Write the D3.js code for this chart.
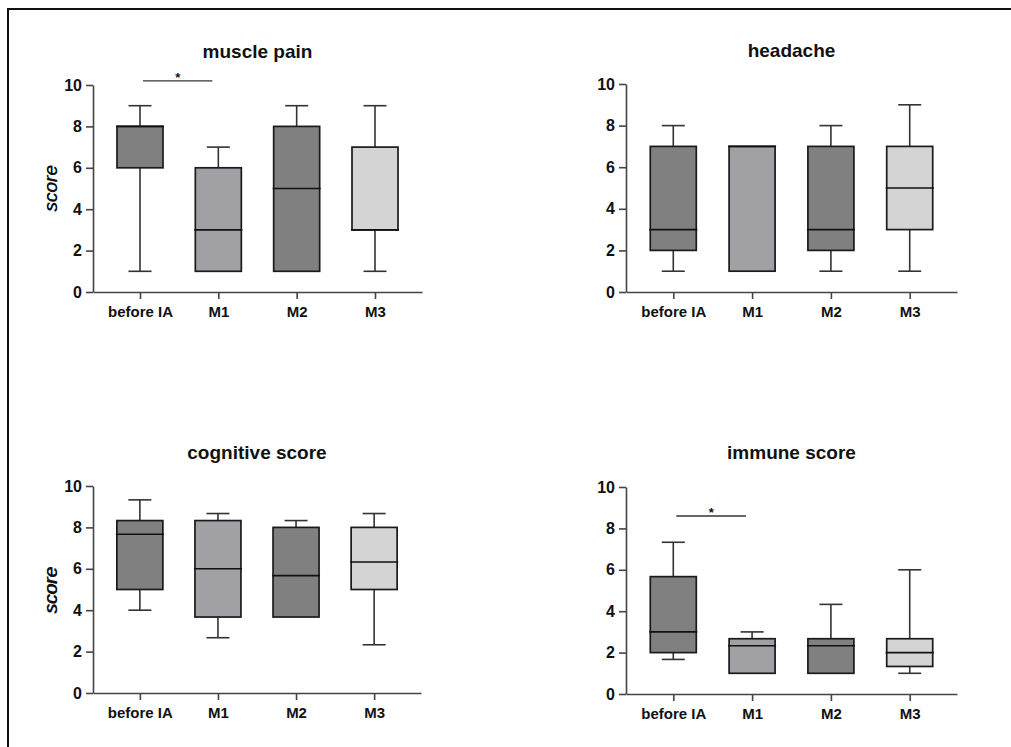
<!DOCTYPE html>
<html>
<head>
<meta charset="utf-8">
<script src="https://cdn.jsdelivr.net/npm/d3@7"></script>
<style>
  body { margin: 0; background: #fff; }
  svg { display: block; font-family: "Liberation Sans", Arial, sans-serif; }
</style>
</head>
<body>
<div id="chart"></div>
<script>
// groups on the x axis
var groups = ["before IA", "M1", "M2", "M3"];
var yTicks = [0, 2, 4, 6, 8, 10];

// box stats per group: [min, q1, median, q3, max]
var musclePain = [[1, 6, 8, 8, 9], [1, 1, 3, 6, 7], [1, 1, 5, 8, 9], [1, 3, 3, 7, 9]];
var headache   = [[1, 2, 3, 7, 8], [1, 1, 7, 7, 7], [1, 2, 3, 7, 8], [1, 3, 5, 7, 9]];
var cognitive  = [[4, 5, 7.67, 8.33, 9.33], [2.67, 3.67, 6, 8.33, 8.67], [3.67, 3.67, 5.67, 8, 8.33], [2.33, 5, 6.33, 8, 8.67]];
var immune     = [[1.67, 2, 3, 5.67, 7.33], [1, 1, 2.33, 2.67, 3], [1, 1, 2.33, 2.67, 4.33], [1, 1.33, 2, 2.67, 6]];

// significance bars: [from, to, y value]
var musclePainSig = ["before IA", "M1", 10.2];
var immuneSig = ["before IA", "M1", 8.6];

var fills = ["#808080", "#a1a1a5", "#808080", "#d4d4d4"];

var svg = d3.select("#chart").append("svg")
  .attr("width", 1011)
  .attr("height", 747);

// frame (only top and left edge visible in the picture)
svg.append("rect")
  .attr("x", 8).attr("y", 9)
  .attr("width", 1200).attr("height", 1000)
  .attr("fill", "none")
  .attr("stroke", "#111")
  .attr("stroke-width", 2);

var panels = [
  {title: "muscle pain",     data: musclePain, sig: musclePainSig, x0: 93,  x1: 422, yTop: 85,  yBot: 292, titleY: 58},
  {title: "headache",        data: headache,   sig: null,          x0: 626, x1: 957, yTop: 84,  yBot: 292, titleY: 57},
  {title: "cognitive score", data: cognitive,  sig: null,          x0: 93,  x1: 421, yTop: 486, yBot: 693, titleY: 459},
  {title: "immune score",    data: immune,     sig: immuneSig,     x0: 626, x1: 957, yTop: 487, yBot: 694, titleY: 459}
];

panels.forEach(function(p) {
  var g = svg.append("g");

  var x = d3.scalePoint()
    .domain(groups)
    .range([p.x0, p.x1])
    .padding(0.6);

  var y = d3.scaleLinear()
    .domain([0, 10])
    .range([p.yBot, p.yTop]);

  var boxW = 46, capW = 23;

  // title
  g.append("text")
    .attr("x", (p.x0 + p.x1) / 2)
    .attr("y", p.titleY)
    .attr("text-anchor", "middle")
    .style("font-weight", "bold")
    .style("font-size", "19px")
    .style("fill", "#111")
    .text(p.title);

  // y axis
  var yAxis = g.append("g")
    .attr("transform", "translate(" + p.x0 + ",0)")
    .call(d3.axisLeft(y).tickValues(yTicks).tickSize(7).tickPadding(4).tickSizeOuter(0));

  // x axis
  var xAxis = g.append("g")
    .attr("transform", "translate(0," + p.yBot + ")")
    .call(d3.axisBottom(x).tickSize(7).tickPadding(7).tickSizeOuter(0));

  [yAxis, xAxis].forEach(function(a) {
    a.select(".domain").attr("stroke", "#444").attr("stroke-width", 1.6);
    a.selectAll(".tick line").attr("stroke", "#444").attr("stroke-width", 1.6);
    a.selectAll(".tick text")
      .style("font-size", "15px")
      .style("font-weight", "bold")
      .style("fill", "#111")
      .style("font-family", "'Liberation Sans', Arial, sans-serif");
  });
  yAxis.selectAll(".tick text").style("font-size", "16px");

  // y label
  g.append("text")
    .attr("transform", "translate(50," + ((p.yTop + p.yBot) / 2) + ")rotate(-90)")
    .attr("text-anchor", "middle")
    .attr("dominant-baseline", "central")
    .style("font-style", "italic")
    .style("font-size", "19px")
    .style("fill", "#111")
    .text("score");

  // boxes
  var boxes = g.selectAll(".box")
    .data(p.data)
    .enter()
    .append("g")
    .attr("class", "box");

  // whiskers
  boxes.append("line")
    .attr("x1", function(d, i) { return x(groups[i]); })
    .attr("x2", function(d, i) { return x(groups[i]); })
    .attr("y1", function(d) { return y(d[3]); })
    .attr("y2", function(d) { return y(d[4]); })
    .attr("stroke", "#333").attr("stroke-width", 1.6);
  boxes.append("line")
    .attr("x1", function(d, i) { return x(groups[i]); })
    .attr("x2", function(d, i) { return x(groups[i]); })
    .attr("y1", function(d) { return y(d[1]); })
    .attr("y2", function(d) { return y(d[0]); })
    .attr("stroke", "#333").attr("stroke-width", 1.6);

  // caps (only where whisker exists)
  boxes.filter(function(d) { return d[4] > d[3]; })
    .append("line")
    .attr("x1", function(d) { return x(groups[p.data.indexOf(d)]) - capW / 2; })
    .attr("x2", function(d) { return x(groups[p.data.indexOf(d)]) + capW / 2; })
    .attr("y1", function(d) { return y(d[4]); })
    .attr("y2", function(d) { return y(d[4]); })
    .attr("stroke", "#333").attr("stroke-width", 1.6);
  boxes.filter(function(d) { return d[0] < d[1]; })
    .append("line")
    .attr("x1", function(d) { return x(groups[p.data.indexOf(d)]) - capW / 2; })
    .attr("x2", function(d) { return x(groups[p.data.indexOf(d)]) + capW / 2; })
    .attr("y1", function(d) { return y(d[0]); })
    .attr("y2", function(d) { return y(d[0]); })
    .attr("stroke", "#333").attr("stroke-width", 1.6);

  // box body
  boxes.append("rect")
    .attr("x", function(d, i) { return x(groups[i]) - boxW / 2; })
    .attr("y", function(d) { return y(d[3]); })
    .attr("width", boxW)
    .attr("height", function(d) { return y(d[1]) - y(d[3]); })
    .attr("fill", function(d, i) { return fills[i]; })
    .attr("stroke", "#1a1a1a")
    .attr("stroke-width", 1.7);

  // median
  boxes.append("line")
    .attr("x1", function(d, i) { return x(groups[i]) - boxW / 2 - 1; })
    .attr("x2", function(d, i) { return x(groups[i]) + boxW / 2 + 1; })
    .attr("y1", function(d) { return y(d[2]); })
    .attr("y2", function(d) { return y(d[2]); })
    .attr("stroke", "#111")
    .attr("stroke-width", 1.6);

  // significance bar
  if (p.sig) {
    var sx1 = x(p.sig[0]) + 3, sx2 = x(p.sig[1]) - 6;
    g.append("line")
      .attr("x1", sx1).attr("x2", sx2)
      .attr("y1", y(p.sig[2])).attr("y2", y(p.sig[2]))
      .attr("stroke", "#333").attr("stroke-width", 1.3);
    g.append("text")
      .attr("x", (sx1 + sx2) / 2)
      .attr("y", y(p.sig[2]) + 1)
      .attr("text-anchor", "middle")
      .style("font-weight", "bold")
      .style("font-size", "13px")
      .style("fill", "#111")
      .text("*");
  }
});
</script>
</body>
</html>
